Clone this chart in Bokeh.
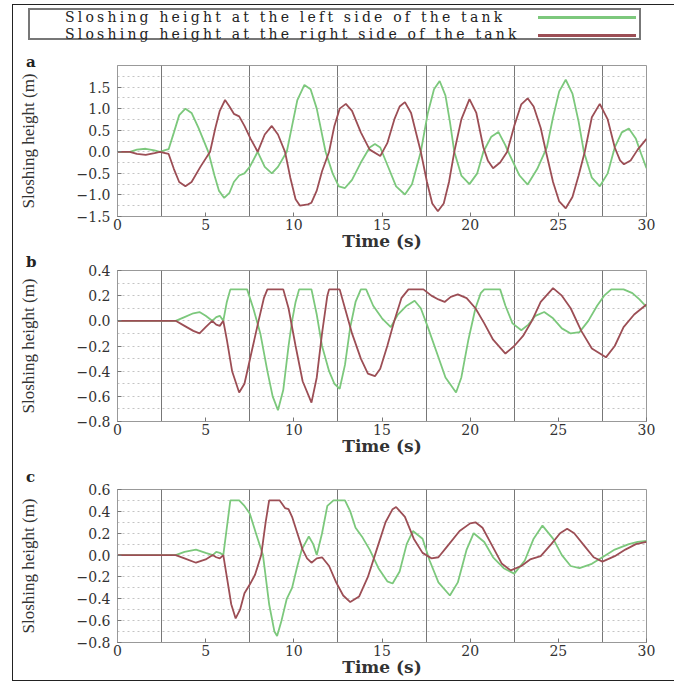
from bokeh.plotting import figure
from bokeh.layouts import column
from bokeh.models import Range1d, FixedTicker, CustomJSTickFormatter, Div
from bokeh.embed import file_html
from bokeh.resources import INLINE

# ---------------- data ----------------
LEGEND_LEFT = "Sloshing height at the left side of the tank"
LEGEND_RIGHT = "Sloshing height at the right side of the tank"
X_LABEL = "Time (s)"
Y_LABEL = "Sloshing height (m)"
PANEL_NAMES = ["a", "b", "c"]
X_TICKS = [0, 5, 10, 15, 20, 25, 30]
V_LINES = [2.5, 7.5, 12.5, 17.5, 22.5, 27.5]

# panel a
a_t_left = [0.0, 0.7, 1.1, 1.6, 2.1, 2.4, 2.7, 2.9, 3.2, 3.5, 3.85, 4.2, 4.6, 5.15, 5.5, 5.75, 6.05, 6.35,
            6.6, 6.9, 7.2, 7.5, 7.95, 8.35, 8.75, 9.1, 9.6, 9.9, 10.2, 10.6, 10.95, 11.3, 11.8, 12.2, 12.55,
            12.9, 13.3, 13.8, 14.3, 14.6, 14.9, 15.3, 15.8, 16.3, 16.7, 17.2, 17.6, 17.95, 18.27, 18.6, 18.85,
            19.1, 19.5, 19.96, 20.4, 20.75, 21.2, 21.6, 22.0, 22.1, 22.8, 23.26, 23.8, 24.35, 24.7, 25.05,
            25.42, 25.8, 26.15, 26.45, 26.9, 27.35, 27.8, 28.2, 28.6, 29.0, 29.4, 29.7, 30.0]
a_v_left = [0.0, 0.0, 0.05, 0.07, 0.03, 0.0, 0.04, 0.06, 0.45, 0.85, 1.0, 0.9, 0.55, 0.0, -0.55, -0.9, -1.07,
            -0.95, -0.7, -0.55, -0.5, -0.35, 0.0, -0.35, -0.5, -0.35, 0.0, 0.6, 1.2, 1.55, 1.45, 1.0, 0.0,
            -0.5, -0.8, -0.84, -0.65, -0.25, 0.1, 0.18, 0.1, -0.3, -0.8, -0.99, -0.75, 0.0, 0.9, 1.45, 1.64,
            1.3, 0.7, 0.0, -0.55, -0.75, -0.5, 0.0, 0.35, 0.46, 0.15, 0.05, -0.55, -0.76, -0.4, 0.1, 0.8,
            1.4, 1.67, 1.35, 0.7, 0.0, -0.6, -0.8, -0.5, 0.1, 0.45, 0.54, 0.3, -0.05, -0.38]
a_t_right = [0.0, 0.7, 1.1, 1.6, 2.1, 2.4, 2.7, 2.9, 3.2, 3.5, 3.85, 4.2, 4.7, 5.25, 5.55, 5.8, 6.1, 6.35,
             6.6, 6.9, 7.2, 7.55, 7.95, 8.35, 8.75, 9.1, 9.5, 9.8, 10.1, 10.35, 10.8, 11.0, 11.3, 11.6, 12.0,
             12.3, 12.6, 12.95, 13.3, 13.8, 14.3, 14.9, 15.3, 15.7, 16.0, 16.3, 16.65, 17.2, 17.55, 17.85,
             18.17, 18.5, 18.8, 19.1, 19.5, 19.96, 20.35, 20.75, 21.0, 21.3, 21.7, 22.1, 22.5, 22.9, 23.26,
             23.6, 24.0, 24.3, 24.7, 25.05, 25.42, 25.8, 26.15, 26.5, 26.9, 27.35, 27.8, 28.2, 28.5, 28.72,
             29.1, 29.5, 30.0]
a_v_right = [0.0, 0.0, -0.05, -0.07, -0.03, 0.0, -0.03, -0.05, -0.4, -0.7, -0.8, -0.7, -0.35, 0.0, 0.55,
             0.95, 1.2, 1.05, 0.88, 0.82, 0.6, 0.3, 0.0, 0.4, 0.6, 0.4, 0.0, -0.6, -1.1, -1.25, -1.22, -1.18,
             -0.9, -0.45, 0.0, 0.6, 1.0, 1.11, 0.95, 0.45, 0.05, -0.1, 0.2, 0.75, 1.05, 1.15, 0.9, 0.0, -0.7,
             -1.2, -1.38, -1.2, -0.7, 0.0, 0.75, 1.22, 0.9, 0.1, -0.2, -0.38, -0.25, 0.0, 0.6, 1.1, 1.24,
             1.05, 0.55, 0.0, -0.7, -1.15, -1.31, -1.05, -0.55, 0.0, 0.8, 1.11, 0.75, 0.1, -0.2, -0.29,
             -0.2, 0.05, 0.3]

# panel b
b_t_left = [0.0, 3.3, 3.8, 4.3, 4.65, 5.0, 5.37, 5.6, 5.8, 6.0, 6.2, 6.4, 7.35, 7.7, 8.1, 8.5, 8.8, 9.1, 9.4,
            9.7, 9.9, 10.1, 10.3, 11.0, 11.3, 11.6, 12.0, 12.3, 12.6, 12.9, 13.2, 13.5, 13.8, 14.1, 14.5,
            15.0, 15.5, 15.9, 16.4, 16.85, 17.2, 17.6, 18.1, 18.6, 19.2, 19.5, 19.9, 20.3, 20.6, 20.8, 21.7,
            22.0, 22.4, 22.9, 23.3, 23.7, 24.2, 24.7, 25.2, 25.7, 26.2, 26.7, 27.2, 27.6, 28.0, 28.7, 29.2,
            29.6, 30.0]
b_v_left = [0.0, 0.0, 0.03, 0.06, 0.07, 0.04, 0.0, 0.03, 0.04, 0.0, 0.15, 0.25, 0.25, 0.1, -0.1, -0.4,
            -0.6, -0.71, -0.55, -0.2, 0.0, 0.15, 0.25, 0.25, 0.05, -0.2, -0.4, -0.5, -0.54, -0.35, -0.05,
            0.15, 0.25, 0.25, 0.12, 0.02, -0.05, 0.05, 0.12, 0.16, 0.1, -0.05, -0.25, -0.45, -0.57, -0.45,
            -0.15, 0.1, 0.22, 0.25, 0.25, 0.12, -0.02, -0.075, -0.03, 0.04, 0.07, 0.02, -0.06, -0.1, -0.09,
            0.0, 0.12, 0.2, 0.25, 0.25, 0.22, 0.17, 0.11]
b_t_right = [0.0, 3.3, 3.8, 4.3, 4.65, 5.0, 5.37, 5.6, 5.8, 6.0, 6.2, 6.5, 6.9, 7.2, 7.6, 8.0, 8.3, 8.5, 9.4,
             9.7, 10.1, 10.5, 11.0, 11.3, 11.6, 11.9, 12.0, 12.6, 12.9, 13.3, 13.8, 14.2, 14.6, 14.9, 15.3,
             15.7, 16.1, 16.5, 17.35, 17.8, 18.2, 18.55, 18.9, 19.3, 19.8, 20.3, 20.8, 21.3, 22.0, 22.5,
             23.0, 23.5, 24.0, 24.7, 25.2, 25.7, 26.3, 26.9, 27.7, 28.2, 28.7, 29.3, 30.0]
b_v_right = [0.0, 0.0, -0.04, -0.08, -0.1, -0.05, 0.0, -0.03, -0.04, 0.0, -0.15, -0.4, -0.57, -0.5, -0.25,
             0.0, 0.18, 0.25, 0.25, 0.1, -0.2, -0.48, -0.65, -0.45, -0.1, 0.2, 0.25, 0.25, 0.1, -0.1, -0.3,
             -0.42, -0.44, -0.38, -0.2, 0.0, 0.18, 0.25, 0.25, 0.2, 0.17, 0.15, 0.19, 0.21, 0.18, 0.1, -0.02,
             -0.15, -0.26, -0.2, -0.12, 0.0, 0.15, 0.26, 0.2, 0.1, -0.08, -0.22, -0.29, -0.2, -0.05, 0.05,
             0.13]

# panel c
c_t_left = [0.0, 3.3, 3.8, 4.45, 5.0, 5.4, 5.6, 5.8, 6.0, 6.2, 6.4, 6.9, 7.2, 7.5, 7.85, 8.25, 8.6, 8.9,
            9.05, 9.3, 9.6, 9.9, 10.2, 10.45, 10.85, 11.1, 11.3, 11.6, 11.9, 12.25, 12.9, 13.2, 13.5, 13.9,
            14.3, 14.8, 15.3, 15.6, 16.0, 16.4, 16.75, 17.3, 17.7, 18.2, 18.85, 19.3, 19.8, 20.2, 20.8, 21.3,
            21.9, 22.5, 23.1, 23.6, 24.1, 24.7, 25.2, 25.7, 26.2, 26.9, 27.5, 28.2, 29.0, 29.5, 30.0]
c_v_left = [0.0, 0.0, 0.03, 0.05, 0.02, 0.0, 0.03, 0.02, 0.0, 0.25, 0.5, 0.5, 0.45, 0.38, 0.2, 0.0, -0.45,
            -0.7, -0.74, -0.6, -0.4, -0.3, -0.1, 0.05, 0.17, 0.1, 0.0, 0.2, 0.45, 0.5, 0.5, 0.4, 0.25, 0.16,
            0.05, -0.12, -0.24, -0.26, -0.15, 0.1, 0.22, 0.15, -0.05, -0.25, -0.37, -0.25, 0.05, 0.2, 0.12,
            -0.02, -0.12, -0.17, -0.05, 0.15, 0.27, 0.15, 0.0, -0.1, -0.12, -0.08, -0.02, 0.05, 0.1, 0.12,
            0.13]
c_t_right = [0.0, 3.3, 3.8, 4.45, 5.0, 5.4, 5.6, 5.8, 6.0, 6.2, 6.45, 6.7, 6.95, 7.2, 7.5, 7.8, 8.15, 8.4,
             8.6, 9.2, 9.5, 9.7, 9.9, 10.2, 10.5, 10.75, 11.0, 11.3, 11.6, 12.0, 12.4, 12.8, 13.2, 13.7, 14.2,
             14.7, 15.2, 15.6, 15.8, 16.3, 16.8, 17.3, 17.8, 18.2, 18.7, 19.4, 20.0, 20.3, 20.7, 21.2, 21.8,
             22.3, 22.9, 23.4, 24.0, 24.6, 25.1, 25.5, 25.9, 26.5, 27.0, 27.5, 28.2, 28.8, 29.4, 30.0]
c_v_right = [0.0, 0.0, -0.03, -0.07, -0.04, 0.0, -0.02, -0.03, 0.0, -0.2, -0.45, -0.58, -0.5, -0.35, -0.27,
             -0.18, 0.0, 0.3, 0.5, 0.5, 0.43, 0.42, 0.35, 0.2, 0.05, -0.03, -0.07, -0.03, -0.02, -0.1, -0.25,
             -0.37, -0.43, -0.38, -0.2, 0.05, 0.3, 0.42, 0.44, 0.35, 0.15, 0.02, -0.03, -0.02, 0.08, 0.22, 0.29,
             0.3, 0.25, 0.1, -0.08, -0.14, -0.1, -0.04, -0.01, 0.1, 0.2, 0.24, 0.2, 0.08, -0.02, -0.06, -0.01,
             0.05, 0.1, 0.12]

a_y_range = (-1.5, 2.0)
a_y_ticks = [-1.5, -1.0, -0.5, 0.0, 0.5, 1.0, 1.5]
a_y_grid = [-1.25, -1.0, -0.75, -0.5, -0.25, 0.0, 0.25, 0.5, 0.75, 1.0, 1.25, 1.5, 1.75]
b_y_range = (-0.8, 0.4)
b_y_ticks = [-0.8, -0.6, -0.4, -0.2, 0.0, 0.2, 0.4]
b_y_grid = [-0.7, -0.6, -0.5, -0.4, -0.3, -0.2, -0.1, 0.0, 0.1, 0.2, 0.3]
c_y_range = (-0.8, 0.6)
c_y_ticks = [-0.8, -0.6, -0.4, -0.2, 0.0, 0.2, 0.4, 0.6]
c_y_grid = [-0.7, -0.6, -0.5, -0.4, -0.3, -0.2, -0.1, 0.0, 0.1, 0.2, 0.3, 0.4, 0.5]

# ---------------- style ----------------
GREEN = "#7cc87c"
RED = "#9c4e55"
SERIF = "DejaVu Serif"
W = 661
LETTER_CSS = ("position:absolute;left:13px;font-family:'DejaVu Serif';font-weight:bold;"
              "font-size:15px;line-height:15px;color:#222;")

MINUS_FMT = CustomJSTickFormatter(code="return (tick < 0 ? '\u2212' : '') + Math.abs(tick).toFixed(1);")


def make_legend():
    txt = ("position:absolute;left:52px;font-family:'DejaVu Serif';font-size:14px;line-height:14px;"
           "letter-spacing:3.2px;color:#222;white-space:nowrap;")
    html = (
        '<div style="position:relative;width:%dpx;height:60px;">'
        '<div style="position:absolute;left:15px;top:3px;width:613px;height:32px;border:2px solid #777;"></div>'
        '<div style="%stop:5px;">%s</div>'
        '<div style="%stop:22px;">%s</div>'
        '<div style="position:absolute;left:525px;top:11px;width:98px;height:3px;background:%s;"></div>'
        '<div style="position:absolute;left:525px;top:29px;width:98px;height:3px;background:%s;"></div>'
        '<div style="%stop:50px;">%s</div>'
        '</div>'
    ) % (W, txt, LEGEND_LEFT, txt, LEGEND_RIGHT, GREEN, RED, LETTER_CSS, PANEL_NAMES[0])
    return Div(text=html, width=W, height=60, margin=0)


def make_letter(name, height, top):
    html = ('<div style="position:relative;width:%dpx;height:%dpx;overflow:visible;">'
            '<div style="%stop:%dpx;">%s</div></div>') % (W, height, LETTER_CSS, top, name)
    return Div(text=html, width=W, height=height, margin=0, styles={"overflow": "visible", "z-index": "5"})


def make_panel(yr, yticks, ygrid, tl, vl, tr, vr, height, top, bottom):
    p = figure(width=W, height=height, x_range=Range1d(0, 30), y_range=Range1d(*yr),
               output_backend="svg", toolbar_location=None,
               min_border_left=104, min_border_right=28, min_border_top=top, min_border_bottom=bottom,
               outline_line_color="#999", border_fill_color=None)
    p.xaxis.ticker = FixedTicker(ticks=X_TICKS)
    p.yaxis.ticker = FixedTicker(ticks=yticks)
    p.yaxis.formatter = MINUS_FMT
    for ax in (p.xaxis[0], p.yaxis[0]):
        ax.axis_line_color = "#999"
        ax.major_tick_in = 4
        ax.major_tick_out = 0
        ax.minor_tick_in = 0
        ax.minor_tick_out = 0
        ax.major_tick_line_color = "#777"
        ax.major_label_text_font = SERIF
        ax.major_label_text_font_size = "14px"
        ax.major_label_text_color = "#333"
    p.xaxis.axis_label = X_LABEL
    p.xaxis.axis_label_text_font = SERIF
    p.xaxis.axis_label_text_font_size = "17px"
    p.xaxis.axis_label_text_font_style = "bold"
    p.xaxis.axis_label_text_color = "#333"
    p.xaxis.axis_label_standoff = -2
    p.xaxis.major_label_standoff = 2
    p.yaxis.axis_label = Y_LABEL
    p.yaxis.axis_label_text_font = "Liberation Serif"
    p.yaxis.axis_label_text_font_size = "17px"
    p.yaxis.axis_label_text_font_style = "normal"
    p.yaxis.axis_label_text_color = "#333"
    p.yaxis.axis_label_standoff = 36
    p.yaxis.major_label_standoff = 7
    p.xgrid.ticker = FixedTicker(ticks=V_LINES)
    p.xgrid.grid_line_color = "#777"
    p.xgrid.grid_line_width = 1
    p.ygrid.ticker = FixedTicker(ticks=ygrid)
    p.ygrid.grid_line_color = "#c4c4c4"
    p.ygrid.grid_line_dash = "2 3"
    p.line(tl, vl, line_color=GREEN, line_width=1.8)
    p.line(tr, vr, line_color=RED, line_width=1.8)
    return p


leg = make_legend()
pa = make_panel(a_y_range, a_y_ticks, a_y_grid, a_t_left, a_v_left, a_t_right, a_v_right, 188, 0, 36)
lb = make_letter(PANEL_NAMES[1], 9, -1)
pb = make_panel(b_y_range, b_y_ticks, b_y_grid, b_t_left, b_v_left, b_t_right, b_v_right, 207, 8, 48)
lc = make_letter(PANEL_NAMES[2], 12, 1)
pc = make_panel(c_y_range, c_y_ticks, c_y_grid, c_t_left, c_v_left, c_t_right, c_v_right, 199, 8, 38)

layout = column(leg, pa, lb, pb, lc, pc, spacing=0, margin=(4, 0, 0, 12),
                styles={"border-left": "1px solid #222", "border-bottom": "1px solid #222",
                        "border-top": "1px solid #222"})

open("out.html", "w").write(file_html(layout, INLINE))
